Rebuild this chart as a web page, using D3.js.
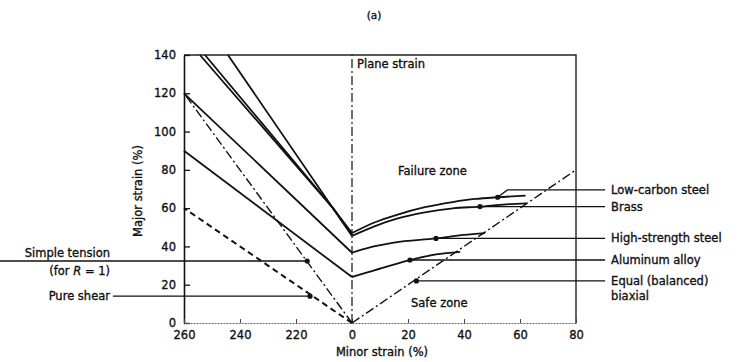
<!DOCTYPE html>
<html>
<head>
<meta charset="utf-8">
<script src="https://cdn.jsdelivr.net/npm/d3@7"></script>
<style>
  body { margin: 0; background: #fff; }
  svg text { font-family: "DejaVu Sans", sans-serif; fill: #111; stroke: #111; stroke-width: 0.35px; }
</style>
</head>
<body>
<div id="chart"></div>
<script>
// Axis ticks
const X_TICKS = [-60, -40, -20, 0, 20, 40, 60, 80];
const X_TICK_LABELS = ['260', '240', '220', '0', '20', '40', '60', '80'];
const Y_TICKS = [0, 20, 40, 60, 80, 100, 120, 140];

// Forming limit curves, left branch (straight) and right branch (curved)
const LOW_CARBON_LEFT = [[-44.3, 140], [-6.8, 60], [0, 47]];
const LOW_CARBON_RIGHT = [[0, 47], [8, 52.5], [16, 56.5], [26, 60.5], [36, 63.2], [44, 64.8], [52, 65.7], [62, 66.5]];
const BRASS_LEFT = [[-52.5, 140], [-6.8, 60], [0, 45.5]];
const BRASS_BAND_LEFT = [[-54.3, 140], [-6.8, 60], [0, 46]];
const BRASS_RIGHT = [[0, 45.5], [8, 50.5], [16, 54.5], [26, 57.8], [36, 59.9], [45.7, 60.8], [55, 62], [62.5, 62.5]];
const HSS_LEFT = [[-60, 120], [0, 36.7]];
const HSS_RIGHT = [[0, 36.7], [6.4, 39.5], [15, 42], [30, 44.2], [40, 46], [47.5, 47]];
const ALU_LEFT = [[-60, 90], [0, 24]];
const ALU_RIGHT = [[0, 24], [6.4, 26.8], [20.7, 32.9], [30, 35.8], [38.6, 37.2]];

// Strain paths from the origin
const SIMPLE_TENSION = [[0, 0], [-60, 120]];
const PURE_SHEAR = [[0, 0], [-60, 60]];
const BIAXIAL = [[0, 0], [80, 80]];
const PLANE_STRAIN = [[0, 0], [0, 140]];

// Leader labels: dot on the curve, leader height, label lines
const RIGHT_LABELS = ['Low-carbon steel', 'Brass', 'High-strength steel', 'Aluminum alloy', 'Equal (balanced)|biaxial'];
const RIGHT_DOTS = [[52, 65.7], [45.7, 60.8], [30, 44.2], [20.7, 32.9], [23, 22]];
const RIGHT_LEADER_Y = [69.5, 60.8, 44.2, 32.9, 22];
const LEFT_LABELS = ['Simple tension|(for R = 1)', 'Pure shear'];
const LEFT_DOTS = [[-16, 32.4], [-15, 14]];

const WIDTH = 741;
const HEIGHT = 362;

const x = d3.scaleLinear([-60, 80], [184, 576]);
const y = d3.scaleLinear([0, 140], [323, 55]);

const svg = d3.select('#chart')
  .append('svg')
  .attr('width', WIDTH)
  .attr('height', HEIGHT);

const line = d3.line().x(d => x(d[0])).y(d => y(d[1]));
const curve = d3.line().x(d => x(d[0])).y(d => y(d[1])).curve(d3.curveMonotoneX);

// Title
svg.append('text')
  .attr('x', 374).attr('y', 19)
  .attr('text-anchor', 'middle')
  .style('font-size', '10.5px')
  .text('(a)');

// Frame: top and right
svg.append('path')
  .attr('d', `M${x(-60)},${y(140)}H${x(80)}V${y(0)}`)
  .attr('fill', 'none').attr('stroke', '#222').attr('stroke-width', 1.4);

// Axes
const yAxis = d3.axisLeft(y).tickValues(Y_TICKS).tickSizeInner(-6).tickSizeOuter(0).tickPadding(8);
const gy = svg.append('g').attr('transform', `translate(${x(-60)},0)`).call(yAxis);
gy.select('.domain').attr('stroke', '#111').attr('stroke-width', 1.6);
gy.selectAll('.tick line').attr('stroke', '#111').attr('stroke-width', 1.3);
gy.selectAll('.tick text').style('font-size', '11.5px').style('font-family', '"DejaVu Sans", sans-serif');

const xAxis = d3.axisBottom(x).tickValues(X_TICKS).tickFormat((d, i) => X_TICK_LABELS[i])
  .tickSizeInner(-4).tickSizeOuter(0).tickPadding(8);
const gx = svg.append('g').attr('transform', `translate(0,${y(0)})`).call(xAxis);
gx.select('.domain').attr('stroke', '#666').attr('stroke-width', 1).attr('stroke-dasharray', '2,1');
gx.selectAll('.tick line').attr('stroke', '#444');
gx.selectAll('.tick text').style('font-size', '11.5px').style('font-family', '"DejaVu Sans", sans-serif');

// Axis titles
svg.append('text')
  .attr('transform', `translate(142,${(y(0) + y(140)) / 2 + 2}) rotate(-90)`)
  .attr('text-anchor', 'middle')
  .style('font-size', '11.5px')
  .text('Major strain (%)');
svg.append('text')
  .attr('x', 382).attr('y', 356)
  .attr('text-anchor', 'middle')
  .style('font-size', '11.5px')
  .text('Minor strain (%)');

// Reference strain paths
const paths = svg.append('g').attr('fill', 'none').attr('stroke', '#111');
paths.append('path').attr('d', line(PLANE_STRAIN)).attr('stroke-width', 1.2).attr('stroke-dasharray', '9,3,2,3');
paths.append('path').attr('d', line(SIMPLE_TENSION)).attr('stroke-width', 1.4).attr('stroke-dasharray', '9,3,2,3');
paths.append('path').attr('d', line(BIAXIAL)).attr('stroke-width', 1.4).attr('stroke-dasharray', '9,3,2,3');
paths.append('path').attr('d', line(PURE_SHEAR)).attr('stroke-width', 2).attr('stroke-dasharray', '6,4');

// Forming limit curves
const curves = svg.append('g').attr('fill', 'none').attr('stroke', '#111').attr('stroke-width', 1.8);
[LOW_CARBON_LEFT, BRASS_LEFT, BRASS_BAND_LEFT, HSS_LEFT, ALU_LEFT].forEach(d => {
  curves.append('path').attr('d', line(d));
});
[LOW_CARBON_RIGHT, BRASS_RIGHT, HSS_RIGHT, ALU_RIGHT].forEach(d => {
  curves.append('path').attr('d', curve(d));
});

// Right leaders and labels
const leaders = svg.append('g').attr('fill', 'none').attr('stroke', '#111').attr('stroke-width', 1.3);
RIGHT_DOTS.forEach((d, i) => {
  const ly = RIGHT_LEADER_Y[i];
  const pts = ly === d[1] ? [d, [90.4, ly]] : [d, [d[0] + 3.5, ly], [90.4, ly]];
  leaders.append('path').attr('d', line(pts));
  svg.append('circle').attr('cx', x(d[0])).attr('cy', y(d[1])).attr('r', 2.6).attr('fill', '#111');
  const t = svg.append('text')
    .attr('x', x(90.4) + 6).attr('y', y(ly) + 4)
    .style('font-size', '11.5px');
  RIGHT_LABELS[i].split('|').forEach((s, k) => {
    t.append('tspan').attr('x', x(90.4) + 6).attr('dy', k ? 15 : 0).text(s);
  });
});

// Left leaders and labels
leaders.append('path').attr('d', line([[-125.7, LEFT_DOTS[0][1]], LEFT_DOTS[0]]));
leaders.append('path').attr('d', line([[-85.4, LEFT_DOTS[1][1]], LEFT_DOTS[1]]));
LEFT_DOTS.forEach(d => {
  svg.append('circle').attr('cx', x(d[0])).attr('cy', y(d[1])).attr('r', 2.6).attr('fill', '#111');
});
svg.append('text').attr('x', 110).attr('y', y(LEFT_DOTS[0][1]) - 4).attr('text-anchor', 'end')
  .style('font-size', '11.5px').text('Simple tension');
const forR = svg.append('text').attr('x', 110).attr('y', y(LEFT_DOTS[0][1]) + 14).attr('text-anchor', 'end')
  .style('font-size', '11.5px');
forR.append('tspan').text('(for ');
forR.append('tspan').style('font-style', 'italic').text('R');
forR.append('tspan').text(' = 1)');
svg.append('text').attr('x', 110).attr('y', y(LEFT_DOTS[1][1]) + 4).attr('text-anchor', 'end')
  .style('font-size', '11.5px').text('Pure shear');

// Zone notes
svg.append('text').attr('x', 357).attr('y', 68).style('font-size', '11.5px').text('Plane strain');
svg.append('text').attr('x', 398).attr('y', 175).style('font-size', '11.5px').text('Failure zone');
svg.append('text').attr('x', 411).attr('y', 307).style('font-size', '11.5px').text('Safe zone');
</script>
</body>
</html>
